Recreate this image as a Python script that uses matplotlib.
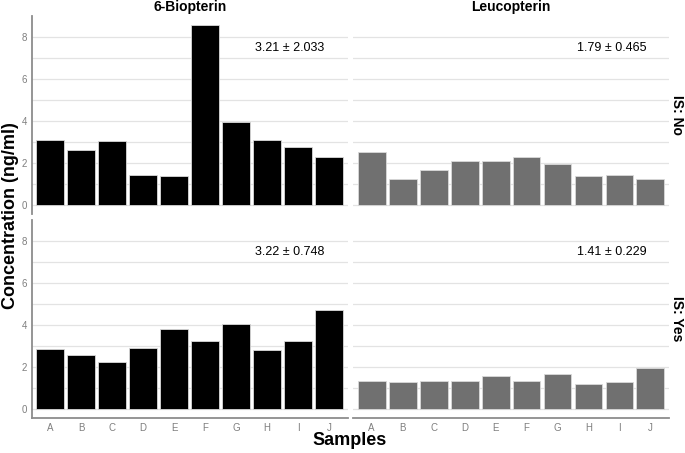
import matplotlib
matplotlib.use('Agg')

import matplotlib.pyplot as plt
import numpy as np

samples = ['A', 'B', 'C', 'D', 'E', 'F', 'G', 'H', 'I', 'J']
compounds = ['6-Biopterin', 'Leucopterin']
is_levels = ['IS: No', 'IS: Yes']

bio_no = [3.10, 2.62, 3.04, 1.42, 1.38, 8.58, 3.97, 3.10, 2.78, 2.28]
leu_no = [2.51, 1.23, 1.69, 2.09, 2.09, 2.31, 1.94, 1.38, 1.41, 1.26]
bio_yes = [2.87, 2.58, 2.25, 2.91, 3.79, 3.26, 4.06, 2.79, 3.22, 4.74]
leu_yes = [1.31, 1.28, 1.35, 1.35, 1.58, 1.35, 1.68, 1.20, 1.28, 1.93]

labels_no = ['3.21 ± 2.033', '1.79 ± 0.465']
labels_yes = ['3.22 ± 0.748', '1.41 ± 0.229']

bar_colors = ['black', '#707070']

plt.rcParams['font.family'] = ['Liberation Sans', 'DejaVu Sans']

fig = plt.figure(figsize=(6.85, 4.53), dpi=100)

lefts = [31.7 / 685, 353.1 / 685]
width = 315.9 / 685
bottoms = [1 - 214 / 453, 1 - 418 / 453]
height = 198.5 / 453

data = [[bio_no, leu_no], [bio_yes, leu_yes]]
labels = [labels_no, labels_yes]
x = np.arange(len(samples))
spine_col = '#8c8c8c'
grid_col = '#e3e3e3'

for r in range(2):
    for c in range(2):
        ax = fig.add_axes([lefts[c], bottoms[r], width, height])
        ax.set_axisbelow(True)
        ax.bar(x, data[r][c], width=0.9, color=bar_colors[c], edgecolor='#d9d9d9', linewidth=0.6)
        ax.set_xlim(-0.6, 9.6)
        ax.set_ylim(-0.43, 9.03)
        ax.set_yticks([0, 2, 4, 6, 8])
        ax.set_yticks([1, 3, 5, 7], minor=True)
        ax.grid(True, which='both', axis='y', color=grid_col, linewidth=0.9)
        ax.set_xticks(x)
        for s in ax.spines.values():
            s.set_visible(False)
        ax.tick_params(which='both', length=0, colors='#7f7f7f', labelsize=7)
        if c == 0:
            ax.spines['left'].set_visible(True)
            ax.spines['left'].set_color(spine_col)
            ax.spines['left'].set_linewidth(1.3)
        else:
            ax.set_yticklabels([])
        if r == 1:
            ax.spines['bottom'].set_visible(True)
            ax.spines['bottom'].set_color(spine_col)
            ax.spines['bottom'].set_linewidth(1.3)
            ax.set_xticklabels(samples)
        else:
            ax.set_xticklabels([])
        ax.text(7.74, 7.5, labels[r][c], ha='center', va='center', fontsize=9)
        if r == 0:
            ax.set_title(compounds[c], fontsize=10, fontweight='bold', pad=3)
        if c == 1:
            fig.text(677 / 685, bottoms[r] + height / 2, is_levels[r], rotation=270,
                     ha='center', va='center', fontsize=10, fontweight='bold')

fig.text(0.016, 0.525, 'Concentration (ng/ml)', rotation=90, ha='center', va='center',
         fontsize=13, fontweight='bold')
fig.text(0.511, 0.027, 'Samples', ha='center', va='center', fontsize=13, fontweight='bold')

fig.savefig('out.png', dpi=100)
